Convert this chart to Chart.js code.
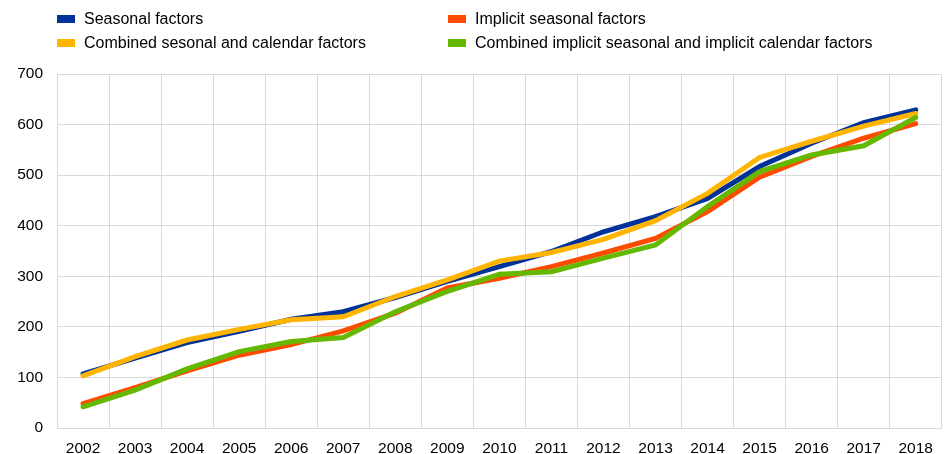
<!DOCTYPE html>
<html>
<head>
<meta charset="utf-8">
<script src="https://cdn.jsdelivr.net/npm/chart.js@4/dist/chart.umd.min.js"></script>
<style>
  html, body { margin: 0; padding: 0; background: #fff; }
  #wrap { position: relative; width: 944px; height: 454px; }
  #legend {
    position: absolute; left: 57px; top: 10px;
    display: grid; grid-template-columns: 391px auto; row-gap: 7px;
    font: 16px "Liberation Sans", Arial, sans-serif; color: #000;
  }
  #legend div { display: flex; align-items: center; height: 17px; }
  #legend span.box { width: 18px; height: 8px; margin-right: 9px; display: inline-block; }
</style>
</head>
<body>
<div id="wrap">
  <canvas id="chart" width="944" height="454"></canvas>
  <div id="legend"></div>
</div>
<script>
const years = ['2002', '2003', '2004', '2005', '2006', '2007', '2008', '2009', '2010',
  '2011', '2012', '2013', '2014', '2015', '2016', '2017', '2018'];

const seasonal = [107, 138, 169, 191, 215, 230, 258, 290, 319, 349, 388, 418, 454, 517, 563, 604, 629];
const combined = [103, 141, 174, 195, 214, 220, 260, 293, 330, 347, 373, 410, 464, 535, 567, 597, 622];
const implicitSeasonal = [48, 80, 113, 144, 165, 192, 227, 277, 296, 319, 346, 375, 428, 496, 537, 573, 602];
const implicitCombined = [42, 75, 117, 151, 171, 179, 230, 270, 304, 309, 336, 362, 438, 507, 540, 558, 614];

const yTicks = [0, 100, 200, 300, 400, 500, 600, 700];

// legend order is row by row: left column, then right column
const series = [
  { label: 'Seasonal factors', data: seasonal, color: '#003299', order: 4 },
  { label: 'Implicit seasonal factors', data: implicitSeasonal, color: '#ff4b00', order: 3 },
  { label: 'Combined sesonal and calendar factors', data: combined, color: '#ffb400', order: 2 },
  { label: 'Combined implicit seasonal and implicit calendar factors', data: implicitCombined, color: '#65b800', order: 1 }
];

const legend = document.getElementById('legend');
series.forEach(s => {
  const item = document.createElement('div');
  const box = document.createElement('span');
  box.className = 'box';
  box.style.background = s.color;
  item.appendChild(box);
  item.appendChild(document.createTextNode(s.label));
  legend.appendChild(item);
});

const gridColor = '#d9d9d9';
const tickFont = { family: '"Liberation Sans", Arial, sans-serif', size: 15.5 };

new Chart(document.getElementById('chart'), {
  type: 'line',
  data: {
    labels: years,
    datasets: series.map(s => ({
      label: s.label,
      data: s.data,
      borderColor: s.color,
      backgroundColor: s.color,
      borderWidth: 5,
      borderCapStyle: 'round',
      pointRadius: 0,
      tension: 0,
      order: s.order
    }))
  },
  options: {
    responsive: false,
    animation: false,
    layout: { padding: { top: 74, right: 1, left: 0, bottom: 0 } },
    plugins: { legend: { display: false }, tooltip: { enabled: false } },
    scales: {
      x: {
        offset: true,
        grid: { offset: true, color: gridColor, drawTicks: false },
        border: { color: gridColor },
        ticks: { font: tickFont, color: '#000', padding: 11, maxRotation: 0, autoSkip: false },
        afterFit: s => { s.height = 26; }
      },
      y: {
        min: yTicks[0],
        max: yTicks[yTicks.length - 1],
        afterBuildTicks: s => { s.ticks = yTicks.map(v => ({ value: v })); },
        grid: { color: gridColor, drawTicks: false },
        border: { color: gridColor },
        ticks: { font: tickFont, color: '#000', padding: 14 },
        afterFit: s => { s.width = 57; }
      }
    }
  }
});
</script>
</body>
</html>
